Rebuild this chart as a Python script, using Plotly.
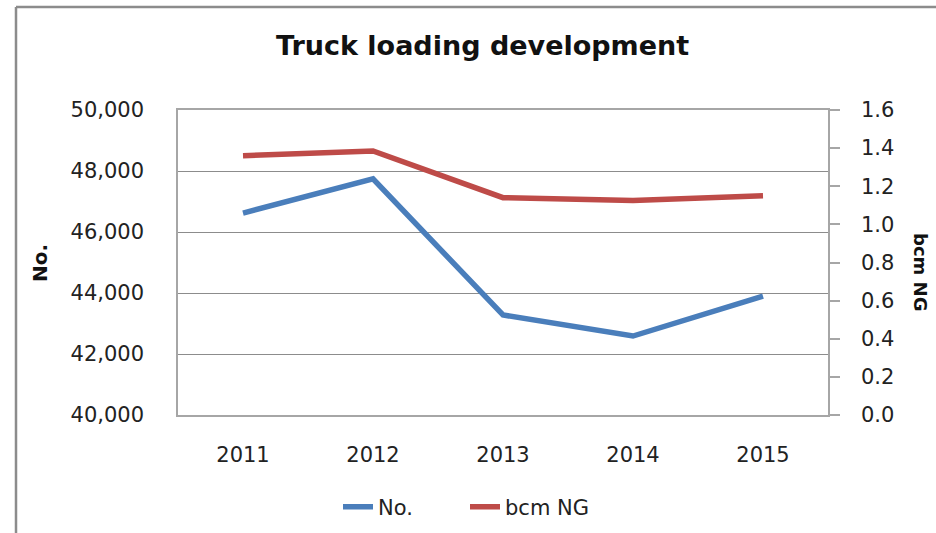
import plotly.graph_objects as go

years = ["2011", "2012", "2013", "2014", "2015"]
trucks_no = [46620, 47740, 43280, 42590, 43900]
bcm_ng = [1.36, 1.385, 1.14, 1.125, 1.15]

BLUE = "#4A7EBB"
RED = "#BE4B48"
FONT = "DejaVu Sans"

fig = go.Figure()
fig.add_trace(go.Scatter(x=years, y=trucks_no, name="No.", mode="lines",
                         line=dict(color=BLUE, width=5.5), yaxis="y"))
fig.add_trace(go.Scatter(x=years, y=bcm_ng, name="bcm NG", mode="lines",
                         line=dict(color=RED, width=5.5), yaxis="y2"))

L, R, T, B = 178, 828, 110, 415
W, H = 936, 533

def px_x(x):
    return (x - L) / (R - L)

def px_y(y):
    return (B - y) / (B - T)

fig.update_layout(
    width=W, height=H,
    margin=dict(l=L, r=W - R, t=T, b=H - B, pad=0, autoexpand=False),
    paper_bgcolor="white", plot_bgcolor="white",
    font=dict(family=FONT, size=21, color="#222222"),
    showlegend=True,
    legend=dict(orientation="h", x=px_x(338), y=px_y(507), xanchor="left", yanchor="middle",
                font=dict(size=21, family=FONT, color="#222222"),
                entrywidth=82, entrywidthmode="pixels",
                traceorder="normal"),
    xaxis=dict(type="category", range=[-0.5, 4.5], showgrid=False,
               showline=True, linecolor="#A6A6A6", linewidth=1.5, mirror=True,
               ticks="", ticklabelstandoff=20, tickfont=dict(size=21)),
    yaxis=dict(range=[40000, 50000], dtick=2000, tickformat=",d",
               showgrid=True, gridcolor="#8C8C8C", gridwidth=1,
               showline=True, linecolor="#A6A6A6", linewidth=1.5,
               ticks="", ticklabelstandoff=28, zeroline=False, tickfont=dict(size=21)),
    yaxis2=dict(range=[0, 1.6], dtick=0.2, tickformat=".1f", overlaying="y", side="right",
                showgrid=False, showline=True, linecolor="#A6A6A6", linewidth=1.5,
                ticks="outside", ticklen=10, tickcolor="#A6A6A6", tickwidth=1.5,
                ticklabelstandoff=17, zeroline=False, tickfont=dict(size=21)),
    annotations=[
        dict(text="<b>Truck loading development</b>", x=px_x(482), y=px_y(45),
             xref="paper", yref="paper", showarrow=False, xanchor="center", yanchor="middle",
             font=dict(size=27, family=FONT, color="#111111")),
        dict(text="<b>No.</b>", x=px_x(40), y=px_y(263), xref="paper", yref="paper",
             showarrow=False, textangle=-90, xanchor="center", yanchor="middle",
             font=dict(size=20, family=FONT, color="#111111")),
        dict(text="<b>bcm NG</b>", x=px_x(921), y=px_y(272), xref="paper", yref="paper",
             showarrow=False, textangle=90, xanchor="center", yanchor="middle",
             font=dict(size=18, family=FONT, color="#111111")),
    ],
    shapes=[
        dict(type="line", xref="paper", yref="paper", x0=px_x(16), x1=px_x(960),
             y0=px_y(7), y1=px_y(7), line=dict(color="#8C8C8C", width=2.5)),
        dict(type="line", xref="paper", yref="paper", x0=px_x(16), x1=px_x(16),
             y0=px_y(7), y1=px_y(560), line=dict(color="#8C8C8C", width=2.5)),
    ],
)

fig.write_html("out.html", config={"displayModeBar": False},
               post_script="document.body.style.margin='0';document.body.style.overflow='hidden';")
